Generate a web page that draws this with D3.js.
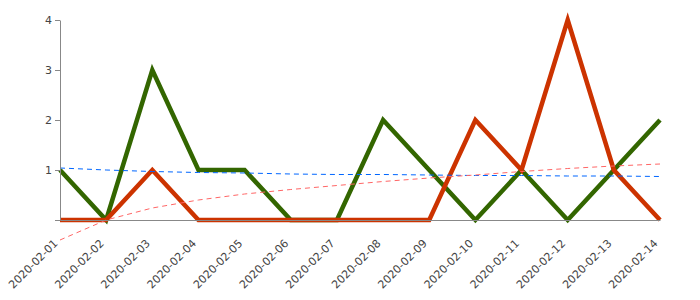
<!DOCTYPE html>
<html>
<head>
<meta charset="utf-8">
<script src="https://cdn.jsdelivr.net/npm/d3@7"></script>
<style>
  body { margin: 0; background: #fff; }
  svg { display: block; }
</style>
</head>
<body>
<div id="chart"></div>
<script>
// Dates on the x axis
var dates = ["2020-02-01", "2020-02-02", "2020-02-03", "2020-02-04", "2020-02-05",
    "2020-02-06", "2020-02-07", "2020-02-08", "2020-02-09", "2020-02-10",
    "2020-02-11", "2020-02-12", "2020-02-13", "2020-02-14"];

// The two series (thick lines)
var greenValues = [1, 0, 3, 1, 1, 0, 0, 2, 1, 0, 1, 0, 1, 2];
var redValues = [0, 0, 1, 0, 0, 0, 0, 0, 0, 2, 1, 4, 1, 0];

// Trend lines (dashed)
var blueTrend = [1.04, 1.0, 0.97, 0.95, 0.94, 0.92, 0.91, 0.91, 0.9, 0.89, 0.89, 0.88, 0.88, 0.87];
var redTrend = [-0.4, 0.0, 0.24, 0.4, 0.52, 0.61, 0.69, 0.77, 0.84, 0.9, 0.97, 1.03, 1.08, 1.12];

// Y ticks
var yTicks = [0, 1, 2, 3, 4];

var width = 700;
var height = 300;
var margin = { top: 20, right: 40, bottom: 80, left: 60 };
var innerWidth = width - margin.left - margin.right;
var innerHeight = height - margin.top - margin.bottom;

var svg = d3.select("#chart")
    .append("svg")
    .attr("width", width)
    .attr("height", height)
    .style("font-family", "'DejaVu Sans', sans-serif");

var g = svg.append("g")
    .attr("transform", `translate(${margin.left}, ${margin.top})`);

var x = d3.scalePoint()
    .domain(dates)
    .range([0, innerWidth]);

var y = d3.scaleLinear()
    .domain([0, 4])
    .range([innerHeight, 0]);

var line = d3.line()
    .x((d, i) => x(dates[i]))
    .y(d => y(d));

// Thick series lines
g.append("path")
    .datum(greenValues)
    .attr("fill", "none")
    .attr("stroke", "#336600")
    .attr("stroke-width", 4.5)
    .attr("d", line);

g.append("path")
    .datum(redValues)
    .attr("fill", "none")
    .attr("stroke", "#cc3300")
    .attr("stroke-width", 4.5)
    .attr("d", line);

// Dashed trend lines
g.append("path")
    .datum(blueTrend)
    .attr("fill", "none")
    .attr("stroke", "#0066ff")
    .attr("stroke-width", 1)
    .attr("stroke-dasharray", "5,4")
    .attr("d", line);

g.append("path")
    .datum(redTrend)
    .attr("fill", "none")
    .attr("stroke", "#ff6666")
    .attr("stroke-width", 1)
    .attr("stroke-dasharray", "5,4")
    .attr("d", line);

// Y axis
var yAxis = g.append("g")
    .call(d3.axisLeft(y).tickValues(yTicks).tickSize(5).tickSizeOuter(0)
        .tickFormat(d => d === 0 ? "" : d));
yAxis.selectAll("path, line").attr("stroke", "#888");
yAxis.selectAll("text")
    .attr("fill", "#444")
    .style("font-size", "11px")
    .style("font-family", "'DejaVu Sans', sans-serif");

// X axis
var xAxis = g.append("g")
    .attr("transform", `translate(0, ${innerHeight})`)
    .call(d3.axisBottom(x).tickSize(0).tickSizeOuter(0).tickPadding(0));
xAxis.select(".domain").attr("stroke", "#888");
xAxis.selectAll("text")
    .attr("fill", "#444")
    .attr("y", 0)
    .attr("dy", 0)
    .attr("transform", "translate(-2, 24) rotate(-45)")
    .style("text-anchor", "end")
    .style("font-size", "11px")
    .style("font-family", "'DejaVu Sans', sans-serif");
</script>
</body>
</html>
